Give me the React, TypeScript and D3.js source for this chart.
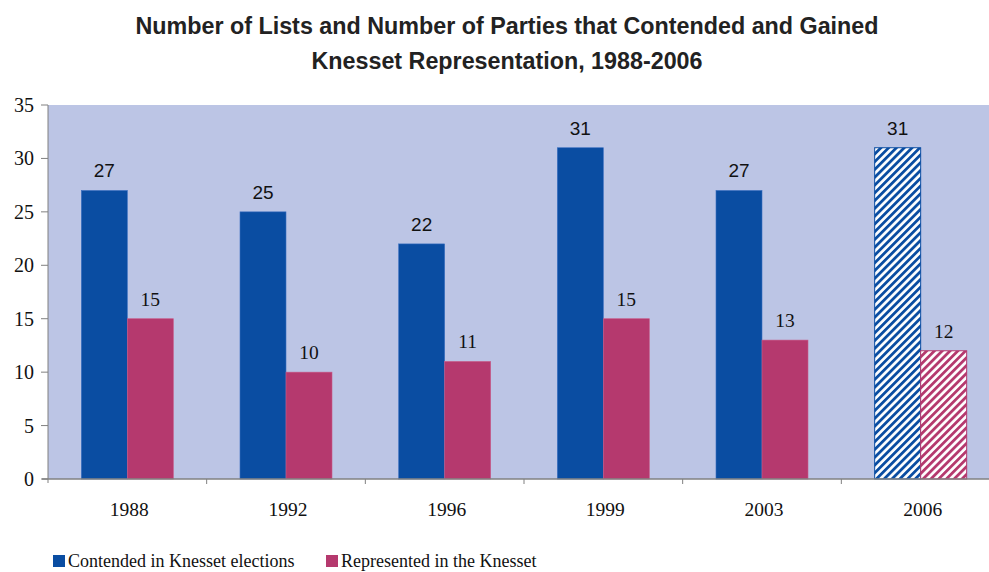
import React from "react";
import * as d3 from "d3";

const years = ["1988", "1992", "1996", "1999", "2003", "2006"];
const contended = [27, 25, 22, 31, 27, 31];
const represented = [15, 10, 11, 15, 13, 12];
const yTicks = [0, 5, 10, 15, 20, 25, 30, 35];
const seriesNames = ["Contended in Knesset elections", "Represented in the Knesset"];
const hatchedYears = ["2006"];

const W = 989;
const H = 572;
const BLUE = "#0a4da2";
const PINK = "#b5396e";
const BG = "#bcc5e5";
const SERIF = "'Liberation Serif', 'Times New Roman', serif";
const SANS = "'Liberation Sans', Arial, sans-serif";

export default function App() {
  const left = 48;
  const right = 1000;
  const top = 105;
  const bottom = 479;
  const x = d3.scaleBand<string>().domain(years).range([left, right]);
  const y = d3.scaleLinear().domain([0, 35]).range([bottom, top]);
  const bw = 46;

  return (
    <svg width={W} height={H} style={{ display: "block", position: "absolute", left: 0, top: 0 }}>
      <defs>
        <pattern id="hatchBlue" patternUnits="userSpaceOnUse" width="5.5" height="5.5" patternTransform="rotate(45)">
          <rect width="5.5" height="5.5" fill="#fff" />
          <rect width="2.8" height="5.5" fill={BLUE} />
        </pattern>
        <pattern id="hatchPink" patternUnits="userSpaceOnUse" width="5.5" height="5.5" patternTransform="rotate(45)">
          <rect width="5.5" height="5.5" fill="#fff" />
          <rect width="2.8" height="5.5" fill={PINK} />
        </pattern>
      </defs>
      <rect width={W} height={H} fill="#fff" />
      <g fontFamily={SANS} fontWeight="bold" fontSize="23.3" fill="#222" textAnchor="middle">
        <text x={507} y={34}>Number of Lists and Number of Parties that Contended and Gained</text>
        <text x={507} y={69}>Knesset Representation, 1988-2006</text>
      </g>
      <rect x={left} y={top} width={right - left} height={bottom - top} fill={BG} />
      {years.map((yr, i) => {
        const c = (x(yr) as number) + x.bandwidth() / 2;
        const hatched = hatchedYears.includes(yr);
        return (
          <g key={yr}>
            <rect
              x={c - bw}
              y={y(contended[i])}
              width={bw}
              height={bottom - y(contended[i])}
              fill={hatched ? "url(#hatchBlue)" : BLUE}
              stroke={hatched ? BLUE : "#3a6fc0"}
              strokeWidth={hatched ? 1 : 0.6}
            />
            <rect
              x={c}
              y={y(represented[i])}
              width={bw}
              height={bottom - y(represented[i])}
              fill={hatched ? "url(#hatchPink)" : PINK}
              stroke={hatched ? PINK : "#c85a88"}
              strokeWidth={hatched ? 1 : 0.6}
            />
            <text
              x={c - bw / 2}
              y={y(contended[i]) - 13}
              textAnchor="middle"
              fontFamily={SANS}
              fontSize="19"
              fill="#111"
            >
              {contended[i]}
            </text>
            <text
              x={c + bw / 2}
              y={y(represented[i]) - 13}
              textAnchor="middle"
              fontFamily={SERIF}
              fontSize="19.5"
              fill="#111"
            >
              {represented[i]}
            </text>
            <text x={c + 2} y={516} textAnchor="middle" fontFamily={SERIF} fontSize="19.5" fill="#111">
              {yr}
            </text>
          </g>
        );
      })}
      {/* axes */}
      <line x1={left} x2={left} y1={top} y2={bottom + 4} stroke="#808080" strokeWidth={1} />
      <line x1={left - 6} x2={right} y1={bottom} y2={bottom} stroke="#808080" strokeWidth={1.5} />
      {yTicks.map((t) => (
        <g key={t}>
          <line x1={left - 7} x2={left} y1={y(t)} y2={y(t)} stroke="#808080" strokeWidth={1} />
          <text x={34} y={y(t) + 7} textAnchor="end" fontFamily={SERIF} fontSize="20" fill="#111">
            {t}
          </text>
        </g>
      ))}
      {years.map((yr) => (
        <line
          key={"t" + yr}
          x1={(x(yr) as number) + x.bandwidth()}
          x2={(x(yr) as number) + x.bandwidth()}
          y1={bottom}
          y2={bottom + 5}
          stroke="#808080"
        />
      ))}
      {/* legend */}
      <g fontFamily={SERIF} fontSize="18" fill="#111">
        <rect x={53} y={555} width={12} height={12} fill={BLUE} />
        <text x={68} y={567}>{seriesNames[0]}</text>
        <rect x={326} y={555} width={12} height={12} fill={PINK} />
        <text x={341} y={567}>{seriesNames[1]}</text>
      </g>
    </svg>
  );
}
